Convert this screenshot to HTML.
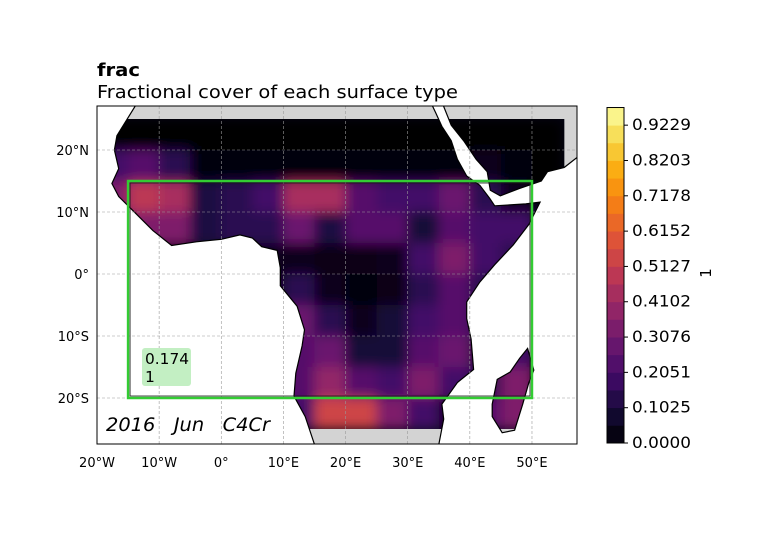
<!DOCTYPE html>
<html><head><meta charset="utf-8"><style>
html,body{margin:0;padding:0;background:#fff;}
svg{display:block;font-family:"DejaVu Sans","Liberation Sans",sans-serif;}
</style></head><body>
<svg id="chart" width="775" height="545" viewBox="0 0 775 545" xmlns="http://www.w3.org/2000/svg">
<defs>
<clipPath id="axclip"><rect x="97" y="106" width="480" height="338"/></clipPath>
<clipPath id="landclip"><path id="landclippath" d=""/></clipPath>
<filter id="blur" x="-10%" y="-10%" width="120%" height="120%"><feGaussianBlur stdDeviation="6"/></filter>
</defs>
<text x="97" y="76" font-size="18" font-weight="bold" textLength="43" lengthAdjust="spacingAndGlyphs">frac</text>
<text x="97" y="98" font-size="18" textLength="361" lengthAdjust="spacingAndGlyphs">Fractional cover of each surface type</text>
<g clip-path="url(#axclip)">
  <rect x="97" y="106" width="480" height="338" fill="#fff"/>
  <g id="landgray"></g>
  <g clip-path="url(#landclip)">
    <g id="datalayer"></g>
  </g>
  <g id="coast"></g>
  <g id="grid"></g>
  <g id="box"></g>
</g>
<rect x="97" y="106" width="480" height="338" fill="none" stroke="#000" stroke-width="1"/>
<g id="axes"></g>
<rect x="142" y="348" width="49" height="38" rx="3" fill="#c3efc3"/>
<text x="145" y="364" font-size="15.5" textLength="44" lengthAdjust="spacingAndGlyphs">0.174</text>
<text x="145" y="382" font-size="15.5">1</text>
<text x="106" y="431" font-size="18.5" font-style="italic" xml:space="preserve" textLength="164" lengthAdjust="spacingAndGlyphs">2016   Jun   C4Cr</text>
<g id="cbar"></g>
<text transform="translate(711,273) rotate(-90)" font-size="15" text-anchor="middle">1</text>
</svg>
<script>
const lonTicks=[-20,-10,0,10,20,30,40,50];
const lonLabels=["20°W","10°W","0°","10°E","20°E","30°E","40°E","50°E"];
const latTicks=[20,10,0,-10,-20];
const latLabels=["20°N","10°N","0°","10°S","20°S"];
const cbTicks=[0,0.1025,0.2051,0.3076,0.4102,0.5127,0.6152,0.7178,0.8203,0.9229];
const cbLabels=["0.0000","0.1025","0.2051","0.3076","0.4102","0.5127","0.6152","0.7178","0.8203","0.9229"];
const gridLons=[-20,-15,-10,-5,0,5,10,15,20,25,30,35,40,45,50];
const gridLats=[25,20,15,10,5,0,-5,-10,-15,-20];
const row25=[0,0,0,0,0,0,0,0,0,0,0,0,0,0,0];
const row20=[0.2,0.25,0.15,0.02,0.01,0.01,0.01,0.01,0.01,0.01,0.01,0.02,0.05,0.01,0];
const row15=[0.35,0.5,0.45,0.12,0.15,0.2,0.45,0.45,0.25,0.2,0.2,0.3,0.15,0.05,0];
const row10=[0.2,0.35,0.35,0.12,0.15,0.15,0.3,0.12,0.25,0.25,0.1,0.25,0.2,0.2,0.1];
const row5=[0.05,0.05,0.05,0.05,0.05,0.05,0.05,0.03,0.03,0.05,0.2,0.35,0.2,0.15,0];
const row0=[0,0,0,0,0,0,0.15,0.05,0.02,0.03,0.15,0.25,0.15,0.05,0];
const rowm5=[0,0,0,0,0,0,0.3,0.15,0.05,0.1,0.2,0.25,0.15,0.05,0];
const rowm10=[0,0,0,0,0,0,0.25,0.3,0.1,0.1,0.25,0.3,0.1,0.2,0];
const rowm15=[0,0,0,0,0,0,0.25,0.4,0.25,0.2,0.35,0.2,0.15,0.35,0];
const rowm20=[0,0,0,0,0,0,0.2,0.55,0.55,0.35,0.2,0.05,0.25,0.35,0];
const values=[row25,row20,row15,row10,row5,row0,rowm5,rowm10,rowm15,rowm20];
const africa=[[-13.6,27.5],[-16.8,22.3],[-17.2,20],[-16.5,17],[-17.6,14.6],[-16.5,12.5],[-15,11],[-13,9],[-11,7],[-8,4.6],[-4,5.2],[0,5.6],[3,6.3],[5,5.8],[6.5,4.4],[9,3.8],[9.5,1],[9.5,-1.9],[12.2,-5.2],[13.4,-9],[13,-11.6],[12,-16],[11.7,-19.7],[13.5,-23],[15,-27.5],[35,-27.5],[35.8,-23.4],[35.5,-21],[38,-17.5],[40.6,-15.4],[40.2,-10.5],[39.5,-7.2],[39.5,-4.5],[41.6,-1.3],[44,1.5],[47,4.7],[49.5,8],[51.3,11.6],[49,11.3],[44,11],[43.2,12.2],[41.6,14.3],[39.5,15.8],[38,18.5],[37,21.5],[35.5,23.8],[34.5,26],[33.8,27.5]];
const arabia=[[35.6,27.5],[37,24],[39,21.5],[41,18.5],[42.8,16.5],[43.3,13.5],[44.9,12.6],[48,13.8],[51.5,15],[52.5,16.5],[55.2,17.2],[57.5,19],[57.5,27.5]];
const madagascar=[[49.3,-12],[50.3,-15.5],[49.5,-17.5],[48.5,-21],[47.2,-25.2],[45.2,-25.6],[43.6,-23],[43.6,-21],[44.4,-17],[46.5,-15.8],[48,-13.6]];
const x=lon=>97+(lon+20)*6.214;
const y=lat=>274-lat*6.2;
const NS="http://www.w3.org/2000/svg";
function mk(tag,attrs,parent){const e=document.createElementNS(NS,tag);for(const k in attrs)e.setAttribute(k,attrs[k]);parent.appendChild(e);return e;}
const inf=[[0,0,0,4],[0.1,22,11,57],[0.2,66,10,104],[0.3,106,23,110],[0.4,147,38,103],[0.5,188,55,84],[0.6,221,81,58],[0.7,243,120,25],[0.8,252,165,10],[0.9,246,215,70],[1,252,255,164]];
function cmap(v){v=Math.max(0,Math.min(1,v));for(let i=1;i<inf.length;i++){if(v<=inf[i][0]){const a=inf[i-1],b=inf[i],t=(v-a[0])/(b[0]-a[0]);return `rgb(${Math.round(a[1]+t*(b[1]-a[1]))},${Math.round(a[2]+t*(b[2]-a[2]))},${Math.round(a[3]+t*(b[3]-a[3]))})`;}}return "rgb(252,255,164)";}
function pathOf(pts){return "M"+pts.map(p=>x(p[0]).toFixed(1)+","+y(p[1]).toFixed(1)).join("L")+"Z";}
const landD=pathOf(africa)+pathOf(arabia)+pathOf(madagascar);
document.getElementById("landclippath").setAttribute("d",landD);
const lg=document.getElementById("landgray");
const landShape=mk("path",{d:landD,fill:"#d3d3d3"},lg);


const dl=document.getElementById("datalayer");
const base=mk("rect",{x:x(-20),y:y(25),width:x(55.2)-x(-20),height:y(-25)-y(25),fill:"#050316"},dl);


const dataClip=mk("clipPath",{id:"dataclip"},document.querySelector("defs"));
mk("rect",{x:x(-20),y:y(25),width:x(55.2)-x(-20),height:y(-25)-y(25)},dataClip);
const outer=mk("g",{"clip-path":"url(#dataclip)"},dl);
const hg=mk("g",{filter:"url(#blur)"},outer);


values.forEach((row,ri)=>{row.forEach((v,ci)=>{
  const r=mk("rect",{x:x(gridLons[ci]),y:y(gridLats[ri]),width:x(gridLons[ci]+5)-x(gridLons[ci])+0.5,height:y(gridLats[ri]-5)-y(gridLats[ri])+0.5,fill:cmap(v)},hg);
  
  
});});
const cst=document.getElementById("coast");
const cl=mk("path",{d:landD,fill:"none",stroke:"#000","stroke-width":1.2},cst);


const gr=document.getElementById("grid");
lonTicks.forEach(l=>{const e=mk("line",{x1:x(l),x2:x(l),y1:106,y2:444,stroke:"#999","stroke-width":0.6,"stroke-dasharray":"3,2"},gr);});
latTicks.forEach(l=>{const e=mk("line",{x1:97,x2:577,y1:y(l),y2:y(l),stroke:"#999","stroke-width":0.6,"stroke-dasharray":"3,2"},gr);});
const bx=document.getElementById("box");
const b1=mk("rect",{x:x(-15),y:y(15),width:x(50)-x(-15),height:y(-20)-y(15),fill:"none",stroke:"#33cc33","stroke-width":2.5},bx);


const b2=mk("rect",{x:x(-15)+2,y:y(15)+2,width:x(50)-x(-15)-4,height:y(-20)-y(15)-4,fill:"none",stroke:"#1a1a1a","stroke-width":0.8},bx);


const ax=document.getElementById("axes");
lonTicks.forEach((l,i)=>{const t=mk("text",{x:x(l),y:467,"font-size":13,"text-anchor":"middle"},ax);t.textContent=lonLabels[i];});
latTicks.forEach((l,i)=>{const t=mk("text",{x:89,y:y(l)+5,"font-size":13,"text-anchor":"end"},ax);t.textContent=latLabels[i];});
const cb=document.getElementById("cbar");
const cy=v=>443-v/0.1025*35.3;
const step=0.05127;
for(let k=0;k<19;k++){const v0=k*step,v1=(k+1)*step;const r=mk("rect",{x:607,y:cy(v1),width:17,height:cy(v0)-cy(v1)+0.4,fill:cmap((k+0.5)/19)},cb);}
const cf=mk("rect",{x:607,y:cy(19*step),width:17,height:443-cy(19*step),fill:"none",stroke:"#000","stroke-width":1},cb);


cbTicks.forEach((v,i)=>{const tl=mk("line",{x1:624,x2:628,y1:cy(v),y2:cy(v),stroke:"#000"},cb);
const t=mk("text",{x:632,y:cy(v)+5,"font-size":16,textLength:59,lengthAdjust:"spacingAndGlyphs"},cb);t.textContent=cbLabels[i];});
</script>
</body></html>
